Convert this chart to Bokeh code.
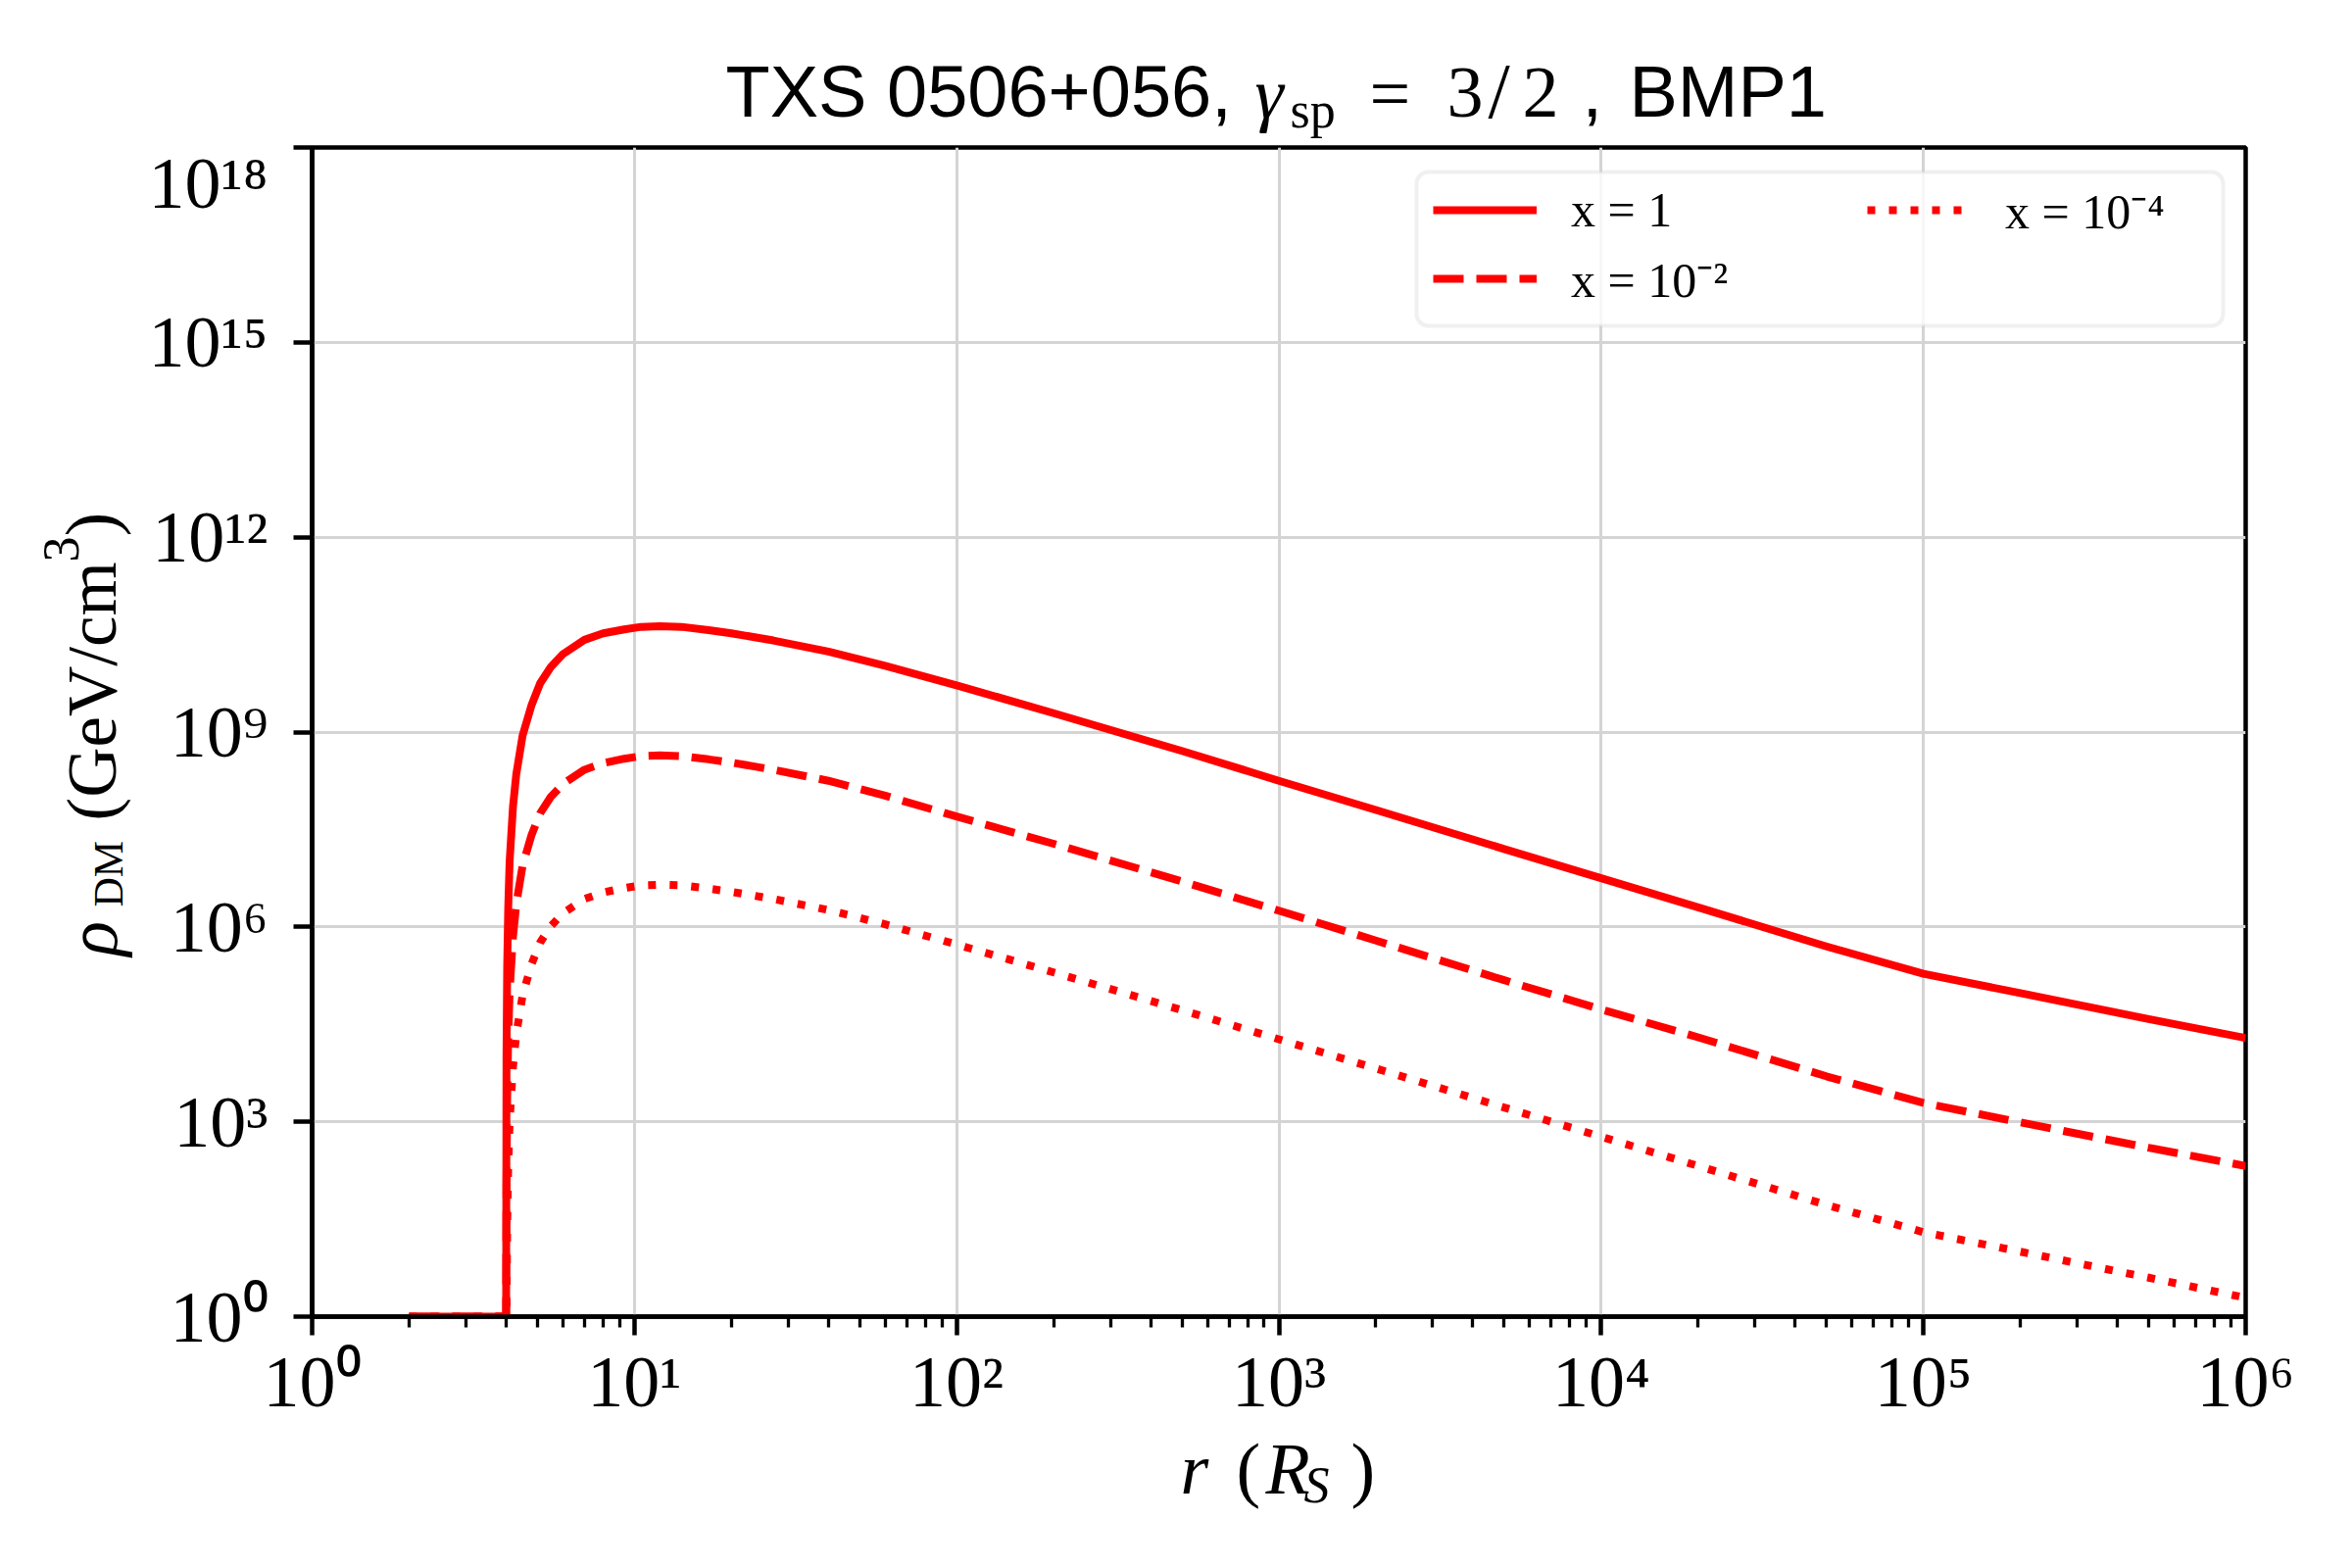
import math
from bokeh.plotting import figure
from bokeh.layouts import column, row
from bokeh.models import FixedTicker, Label, Legend, LegendItem, BoxAnnotation, Range1d
from bokeh.embed import file_html
from bokeh.resources import INLINE

# ---------------- data ----------------
r_values = [2, 4.0, 4.01, 4.03, 4.06, 4.1, 4.2, 4.3, 4.5, 4.8, 5.1, 5.5, 6, 7, 8, 9.3,
            10.5, 12, 14, 17, 20, 27, 40, 60, 100, 200, 500, 1000, 2000, 5000,
            1e4, 2e4, 5e4, 1e5, 2e5, 5e5, 1e6]

# log10 of rho_DM (GeV/cm^3)
log_rho_x1 = [0, 0, 4.0, 5.4, 6.3, 7.0, 7.85, 8.35, 8.95, 9.42, 9.75, 10.0, 10.2, 10.42,
              10.52, 10.58, 10.62, 10.63, 10.62, 10.57, 10.52, 10.41, 10.24, 10.02, 9.72,
              9.29, 8.71, 8.25, 7.80, 7.20, 6.75, 6.30, 5.70, 5.28, 4.98, 4.58, 4.29]
log_rho_x1e_2 = [0, 0, 2.0, 3.4, 4.3, 5.0, 5.85, 6.35, 6.95, 7.42, 7.75, 8.0, 8.2, 8.42,
                 8.52, 8.59, 8.63, 8.64, 8.63, 8.58, 8.53, 8.42, 8.25, 8.02, 7.70,
                 7.28, 6.70, 6.25, 5.79, 5.18, 4.73, 4.30, 3.70, 3.29, 2.99, 2.60, 2.32]
log_rho_x1e_4 = [0, 0, 0.0, 1.4, 2.3, 3.0, 3.85, 4.35, 4.95, 5.43, 5.76, 6.01, 6.21, 6.43,
                 6.53, 6.60, 6.64, 6.65, 6.64, 6.59, 6.54, 6.43, 6.26, 6.04, 5.73,
                 5.30, 4.72, 4.27, 3.82, 3.22, 2.77, 2.32, 1.72, 1.30, 1.00, 0.60, 0.29]

series_labels = ["x = 1", "x = 10\u207b\u00b2", "x = 10\u207b\u2074"]

x_tick_values = [1.0, 10.0, 100.0, 1e3, 1e4, 1e5, 1e6]
x_tick_labels = ["10\u2070", "10\u00b9", "10\u00b2", "10\u00b3", "10\u2074", "10\u2075", "10\u2076"]
y_tick_values = [1.0, 1e3, 1e6, 1e9, 1e12, 1e15, 1e18]
y_tick_labels = ["10\u2070", "10\u00b3", "10\u2076", "10\u2079", "10\u00b9\u00b2", "10\u00b9\u2075", "10\u00b9\u2078"]


def to_rho(logs):
    return [10.0 ** v for v in logs]


# ---------------- layout (page pixels) ----------------
W, H = 2384, 1584
FL, FR, FT, FB = 318, 2291, 150, 1343          # plot frame on the page
FW, FH = FR - FL, FB - FT
TITLE_H = 145                                   # title strip height
YLAB_W = 140                                    # y-label strip width
MAIN_BOTTOM = 1455                              # bottom of the main figure on the page
XLAB_H = H - MAIN_BOTTOM
MAIN_W = W - YLAB_W
MAIN_H = MAIN_BOTTOM - TITLE_H
B_TOP = FT - TITLE_H
B_BOTTOM = MAIN_BOTTOM - FB
XMIN, XMAX, YMIN, YMAX = 1.0, 1e6, 1.0, 1e18


def xd(px):
    return 10 ** ((px - FL) / FW * math.log10(XMAX / XMIN)) * XMIN


def yd(py):
    return 10 ** ((FB - py) / FH * math.log10(YMAX / YMIN)) * YMIN


p = figure(x_axis_type="log", y_axis_type="log",
           x_range=Range1d(XMIN, XMAX), y_range=Range1d(YMIN, YMAX),
           width=MAIN_W, height=MAIN_H, frame_width=FW, frame_height=FH,
           min_border_left=FL - YLAB_W, min_border_top=B_TOP,
           min_border_right=MAIN_W - (FL - YLAB_W) - FW,
           min_border_bottom=B_BOTTOM,
           title=None, output_backend="svg", toolbar_location=None,
           background_fill_color="white", border_fill_color="white")

x_minor = [m * d for d in x_tick_values[:-1] for m in range(2, 10)]
p.xaxis.ticker = FixedTicker(ticks=x_tick_values, minor_ticks=x_minor)
p.yaxis.ticker = FixedTicker(ticks=y_tick_values, minor_ticks=[])
p.xaxis.major_label_overrides = dict(zip(x_tick_values, x_tick_labels))
p.yaxis.major_label_overrides = dict(zip(y_tick_values, y_tick_labels))

for ax in (p.xaxis, p.yaxis):
    ax.axis_line_color = "black"
    ax.axis_line_width = 4.5
    ax.major_tick_line_color = "black"
    ax.major_tick_line_width = 4.5
    ax.major_tick_out = 19
    ax.major_tick_in = 0
    ax.minor_tick_line_color = "black"
    ax.minor_tick_line_width = 3.3
    ax.minor_tick_out = 11
    ax.minor_tick_in = 0
    ax.major_label_text_font = "Liberation Serif"
    ax.major_label_text_font_size = "74px"
    ax.major_label_text_color = "black"
p.xaxis.major_label_standoff = 6
p.yaxis.major_label_standoff = 26

p.outline_line_color = "black"
p.outline_line_width = 4.5
p.outline_line_alpha = 1.0

for g in (p.xgrid, p.ygrid):
    g.grid_line_color = "#d4d4d4"
    g.grid_line_width = 3

RED = "#ff0000"
r1 = p.line(r_values, to_rho(log_rho_x1), line_color=RED, line_width=8, line_join="round")
r2 = p.line(r_values, to_rho(log_rho_x1e_2), line_color=RED, line_width=8, line_dash="31 13")
r3 = p.line(r_values, to_rho(log_rho_x1e_4), line_color=RED, line_width=8, line_dash="8 14")

# legend frame
p.add_layout(BoxAnnotation(left=xd(1445), right=xd(2268), top=yd(175), bottom=yd(332),
                           fill_color="white", fill_alpha=0.8, line_color="#cccccc",
                           line_width=4, border_radius=12))

legend_slots = [(r1, series_labels[0], 1462, 214),
                (r2, series_labels[1], 1462, 284),
                (r3, series_labels[2], 1905, 214)]
for rend, lab_text, px, py in legend_slots:
    leg = Legend(items=[LegendItem(label=lab_text, renderers=[rend])],
                 location=(px - FL, FB - py - 40), padding=0, margin=0, spacing=0,
                 glyph_width=106, glyph_height=80, label_height=80, label_standoff=35,
                 label_text_font="Liberation Serif", label_text_font_size="50px",
                 label_text_color="black",
                 border_line_color=None, background_fill_alpha=0)
    p.add_layout(leg)


# ---------------- text strips (title, axis labels), data units = page pixels ----------------
def strip(x_lo, x_hi, y_top, y_bottom, **kw):
    f = figure(x_range=Range1d(x_lo, x_hi), y_range=Range1d(y_bottom, y_top),
               title=None, x_axis_location=None, y_axis_location=None,
               output_backend="svg", toolbar_location=None,
               background_fill_color="white", border_fill_color="white",
               outline_line_color=None, **kw)
    f.grid.visible = False
    return f


MID = {"Liberation Serif": 0.3375, "Liberation Sans": 0.3465}


def put(f, text, px, py, size, font="Liberation Serif", style="normal", angle=0.0):
    # (px, py): start of the text on its baseline, page coordinates.
    # The label is anchored at the middle of its text box, offset from the baseline.
    k = MID[font] * size
    if angle:
        ax_, ay_ = px - k, py
    else:
        ax_, ay_ = px, py - k
    f.add_layout(Label(x=ax_, y=ay_, text=text, text_font=font,
                       text_font_size=f"{size}px", text_font_style=style,
                       angle=angle, text_align="left", text_baseline="middle",
                       text_color="black"))


title_fig = strip(0, W, 0, TITLE_H, width=W, height=TITLE_H, min_border=0)
put(title_fig, "TXS 0506+056,", 740, 119, 74, font="Liberation Sans")
put(title_fig, "\u03b3", 1280, 119, 74, style="italic")
put(title_fig, "sp", 1316, 130, 52)
put(title_fig, "=", 1397, 119, 74)
put(title_fig, "3", 1476, 119, 74)
put(title_fig, "/", 1518, 119, 80)
put(title_fig, "2", 1553, 119, 74)
put(title_fig, ",", 1614, 119, 74, font="Liberation Sans")
put(title_fig, "BMP1", 1662, 119, 74, font="Liberation Sans")

ylab_fig = strip(0, YLAB_W, FT, FB, frame_width=YLAB_W, frame_height=FH,
                 min_border_left=0, min_border_right=0,
                 min_border_top=B_TOP, min_border_bottom=B_BOTTOM)
A = math.pi / 2
put(ylab_fig, "\u03c1", 118, 975, 74, style="italic", angle=A)
put(ylab_fig, "DM", 125, 925, 42, angle=A)
put(ylab_fig, "(GeV/cm", 117, 837, 71, angle=A)
put(ylab_fig, "3", 80, 573, 52, angle=A)
put(ylab_fig, ")", 117, 547, 74, angle=A)

xlab_fig = strip(0, W, MAIN_BOTTOM, H, width=W, height=XLAB_H, min_border=0)
put(xlab_fig, "r", 1204, 1523, 74, style="italic")
put(xlab_fig, "(", 1261, 1523, 74)
put(xlab_fig, "R", 1291, 1523, 74, style="italic")
put(xlab_fig, "S", 1330, 1533, 52, style="italic")
put(xlab_fig, ")", 1378, 1523, 74)

layout = column(title_fig, row(ylab_fig, p, spacing=0), xlab_fig, spacing=0)

open("out.html", "w").write(file_html(layout, INLINE))
